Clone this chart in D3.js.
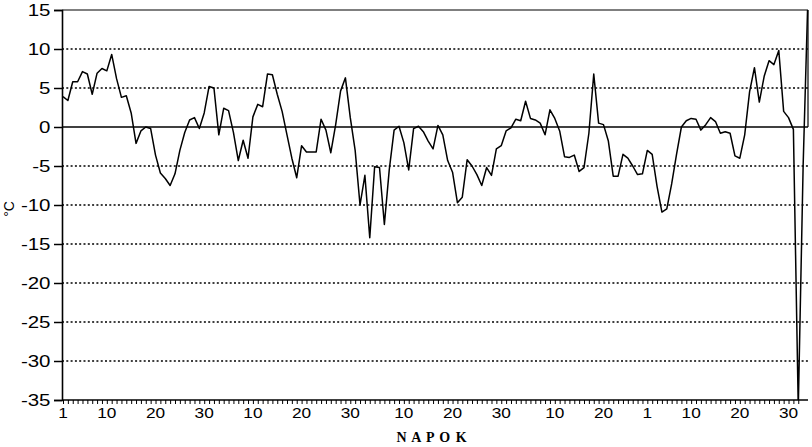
<!DOCTYPE html>
<html>
<head>
<meta charset="utf-8">
<script src="https://cdn.jsdelivr.net/npm/d3@7"></script>
<style>
  body { margin: 0; background: white; }
  text { font-family: "Liberation Sans", Arial, sans-serif; fill: black; }
</style>
</head>
<body>
<script>
// months shown on the axis (Nov..Mar) and which day-of-month gets a label
const monthLengths = [30, 31, 31, 28, 31];
const labelDays = [1, 10, 20, 30];
const yTicks = [15, 10, 5, 0, -5, -10, -15, -20, -25, -30, -35];

// daily values, day 1 .. 154 (°C)
const temps = [
    3.9, 3.4, 5.8, 5.8, 7.1, 6.8, 4.2, 6.9, 7.5, 7.2,
    9.3, 6.2, 3.8, 4.0, 1.8, -2.1, -0.5, 0.0, -0.2, -3.6,
    -5.9, -6.6, -7.5, -6.0, -3.0, -0.7, 0.9, 1.2, -0.2, 1.8,
    5.2, 5.0, -1.0, 2.4, 2.1, -0.7, -4.3, -1.7, -4.0, 1.3,
    2.9, 2.6, 6.8, 6.7, 4.2, 2.0, -1.0, -4.0, -6.5, -2.4,
    -3.2, -3.2, -3.2, 1.0, -0.4, -3.3, 0.3, 4.6, 6.3, 1.2,
    -3.0, -10.0, -6.2, -14.2, -5.1, -5.2, -12.5, -5.5, -0.4, 0.1,
    -2.0, -5.5, -0.2, 0.1, -0.6, -1.8, -2.8, 0.2, -1.0, -4.3,
    -5.8, -9.7, -9.0, -4.2, -5.0, -6.1, -7.5, -5.2, -6.2, -2.8,
    -2.4, -0.5, -0.1, 1.0, 0.8, 3.3, 1.1, 0.9, 0.5, -1.0,
    2.2, 1.1, -0.5, -3.8, -3.9, -3.6, -5.7, -5.2, -0.8, 6.8,
    0.5, 0.3, -1.8, -6.3, -6.3, -3.5, -4.0, -5.0, -6.1, -6.0,
    -3.0, -3.5, -7.6, -10.9, -10.5, -7.3, -3.5, 0.0, 0.8, 1.1,
    1.0, -0.4, 0.3, 1.2, 0.7, -0.8, -0.6, -0.8, -3.7, -4.0,
    -1.0, 4.5, 7.6, 3.2, 6.5, 8.5, 8.0, 9.8, 2.0, 1.2,
    -0.3, -36, -5, 17
];

const width = 812;
const height = 447;
const plotLeft = 62, plotRight = 808, plotTop = 10, plotBottom = 400;

const svg = d3.select('body')
    .append('svg')
    .attr('width', width)
    .attr('height', height);

const x = d3.scaleLinear().domain([1, 154]).range([63, 808]);
const y = d3.scaleLinear().domain([-35, 15]).range([plotBottom, plotTop]);

// dotted grid + solid zero line
svg.selectAll('line.grid')
    .data(yTicks.filter(d => d !== 15 && d !== -35))
    .enter().append('line')
    .attr('class', 'grid')
    .attr('x1', plotLeft).attr('x2', plotRight)
    .attr('y1', d => y(d)).attr('y2', d => y(d))
    .attr('stroke', 'black')
    .attr('stroke-width', d => d === 0 ? 1.5 : 1.3)
    .attr('stroke-dasharray', d => d === 0 ? null : '2,2.3');

// frame: top, right (down to zero line only, as in the scan)
svg.append('line').attr('x1', plotLeft).attr('x2', plotRight).attr('y1', plotTop).attr('y2', plotTop)
    .attr('stroke', 'black').attr('stroke-width', 1.2);
svg.append('line').attr('x1', plotRight).attr('x2', plotRight).attr('y1', plotTop).attr('y2', y(0))
    .attr('stroke', 'black').attr('stroke-width', 1.2);

// y axis
const yAxis = d3.axisLeft(y).tickValues(yTicks).tickSize(8).tickPadding(2).tickFormat(d => String(d));
const gy = svg.append('g').attr('transform', `translate(${plotLeft},0)`).call(yAxis);
gy.select('.domain').attr('stroke-width', 1.6);
gy.selectAll('.tick line').attr('stroke-width', 1.5);
gy.selectAll('.tick text')
    .attr('font-size', 16)
    .attr('x', -9)
    .attr('transform', 'scale(1.28,1)')
    .attr('font-family', '"Liberation Sans", Arial, sans-serif');

// x axis with a tick for every day, labels at 1/10/20/30 of each month
const dayLabels = new Map();
let start = 1, lastLabel = -99;
monthLengths.forEach(len => {
    labelDays.forEach(dom => {
        if (dom > len) return;
        const day = start + dom - 1;
        if (day - lastLabel < 4) return;
        dayLabels.set(day, dom);
        lastLabel = day;
    });
    start += len;
});

const xAxis = d3.axisBottom(x)
    .tickValues(d3.range(1, 153))
    .tickSize(4)
    .tickFormat(() => '');
const gx = svg.append('g').attr('transform', `translate(0,${plotBottom})`).call(xAxis);
gx.select('.domain').remove();
gx.selectAll('.tick line').attr('stroke-width', 1);
svg.append('line').attr('x1', plotLeft).attr('x2', plotRight).attr('y1', plotBottom).attr('y2', plotBottom)
    .attr('stroke', 'black').attr('stroke-width', 1.6);

svg.selectAll('text.xlab')
    .data(Array.from(dayLabels.entries()))
    .enter().append('text')
    .attr('class', 'xlab')
    .attr('transform', d => `translate(${x(d[0])},${plotBottom + 18}) scale(1.15,1)`)
    .attr('text-anchor', 'middle')
    .attr('font-size', 15)
    .text(d => d[1]);

// axis titles
svg.append('text')
    .attr('transform', `translate(14,${y(-10.5)}) rotate(-90)`)
    .attr('text-anchor', 'middle')
    .attr('font-size', 14)
    .text('°C');

svg.append('text')
    .attr('x', 432).attr('y', 442)
    .attr('text-anchor', 'middle')
    .attr('font-size', 14)
    .attr('font-weight', 'bold')
    .style('font-family', '"Liberation Serif", "Times New Roman", serif')
    .style('letter-spacing', '1px')
    .text('N A P O K');

// the temperature line, clipped to the plot area
svg.append('clipPath').attr('id', 'plot-clip')
    .append('rect').attr('x', plotLeft).attr('y', plotTop).attr('width', plotRight - plotLeft + 1).attr('height', plotBottom - plotTop);

const line = d3.line()
    .x((d, i) => x(i + 1))
    .y(d => y(d));

svg.append('path')
    .datum(temps)
    .attr('clip-path', 'url(#plot-clip)')
    .attr('fill', 'none')
    .attr('stroke', 'black')
    .attr('stroke-width', 1.5)
    .attr('stroke-linejoin', 'round')
    .attr('d', line);
</script>
</body>
</html>
